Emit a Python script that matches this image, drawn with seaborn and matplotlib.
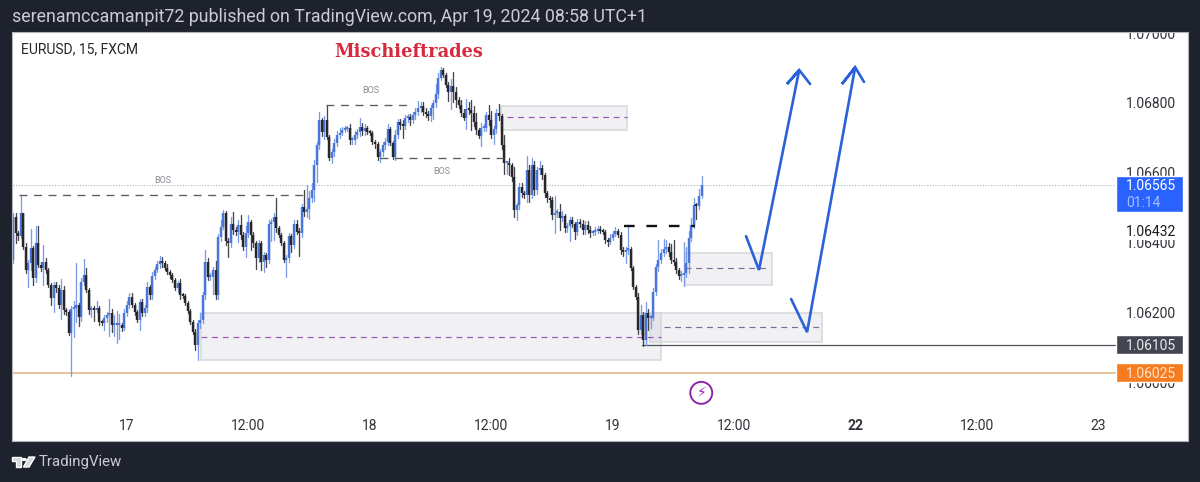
import numpy as np
import pandas as pd
import matplotlib
matplotlib.use("Agg")
import matplotlib.pyplot as plt
from matplotlib.patches import Rectangle, Polygon, Circle
import seaborn as sns

# closes de cada vela de 15 min, en pips por encima de 1.06000
first_open = 35.0
close_pips = [
    47.3, 42.7, 41.8, 48.4, 38.7, 32.1, 34.1, 38.4, 29.8, 39.8,
    33.5, 32.7, 34.4, 32.1, 27.8, 24.1, 27.8, 26.9, 22.1, 26.4,
    20.6, 20.1, 14.0, 20.9, 21.2, 22.1, 18.6, 28.7, 30.7, 26.4,
    20.6, 20.9, 20.6, 21.2, 17.2, 16.9, 18.3, 19.2, 19.8, 16.3,
    16.3, 16.3, 16.4, 15.5, 19.8, 22.1, 24.4, 22.1, 20.1, 17.8,
    22.9, 19.8, 21.2, 27.2, 24.9, 30.4, 32.1, 33.8, 34.7, 34.1,
    32.7, 31.5, 30.7, 29.2, 26.9, 28.4, 24.9, 24.6, 22.6, 20.3,
    17.2, 14.3, 10.6, 16.9, 17.8, 24.9, 34.4, 30.1, 30.1, 32.1,
    24.9, 41.5, 44.4, 48.4, 40.4, 39.8, 45.3, 43.5, 43.0, 45.0,
    42.1, 38.7, 42.7, 45.8, 42.1, 39.8, 35.5, 39.8, 34.4, 36.4,
    35.0, 45.3, 45.8, 47.3, 44.1, 42.1, 39.8, 35.0, 35.5, 41.8,
    39.3, 45.3, 43.0, 42.7, 50.1, 48.7, 49.6, 52.7, 55.0, 62.2,
    67.9, 75.1, 71.6, 75.1, 70.2, 64.2, 65.9, 68.5, 70.8, 71.3,
    72.2, 72.5, 72.8, 69.3, 69.3, 70.8, 71.6, 73.1, 71.9, 72.8,
    71.6, 71.3, 68.8, 68.2, 64.5, 65.9, 67.9, 68.8, 72.5, 68.5,
    64.5, 70.8, 74.5, 73.6, 73.4, 75.6, 75.9, 75.1, 76.5, 77.4,
    78.5, 79.1, 77.4, 76.8, 76.2, 78.5, 79.9, 82.5, 87.1, 89.4,
    88.0, 85.1, 83.1, 84.8, 83.1, 80.8, 79.4, 77.1, 75.6, 78.2,
    77.9, 77.1, 74.5, 72.2, 70.5, 72.8, 72.8, 76.5, 75.1, 70.8,
    72.5, 77.1, 76.2, 67.9, 62.7, 62.7, 62.2, 58.7, 49.3, 50.7,
    55.9, 54.1, 53.6, 60.7, 53.6, 62.2, 55.0, 60.7, 61.3, 59.3,
    54.1, 52.7, 52.1, 47.8, 48.4, 48.7, 47.0, 47.6, 44.1, 44.7,
    46.4, 45.3, 43.0, 45.8, 45.3, 43.5, 45.0, 43.6, 42.7, 43.0,
    43.3, 43.8, 43.3, 43.0, 40.7, 40.1, 41.3, 42.4, 43.3, 42.1,
    37.8, 37.2, 37.8, 38.1, 32.7, 27.2, 24.4, 14.9, 19.2, 12.0,
    19.8, 18.3, 18.3, 25.8, 32.9, 35.0, 37.0, 38.1, 38.7, 37.2,
    35.0, 34.4, 32.1, 30.4, 30.7, 31.2, 34.1, 41.3, 45.0, 50.7,
    50.5, 53.3, 56.5,
]
upper_wick = [
    1, 1, .5, 5.2, 0, 1, 1, 5.5, .5, 5,
    5, 1, 5, 1, .5, .5, 1, 1, 1, 3,
    1, .5, .5, 1, 2, 12, .5, 1, 4.5, 2,
    .5, 1, 1, 2, .5, .5, 1, 1, 4, 1,
    3, 4, 3, .5, 1, 1, 1, 1, .5, .5,
    1, 1, 1, 1.5, .5, 1, 1, 1, 1.5, 1,
    .5, 1, .5, .5, .5, .5, 1, .5, .5, .5,
    .5, .5, 1, 1, 2, 1, 3.5, 1, 1, 1,
    2.5, 1, 2, 1, .5, 1, 2, 3.5, 1, 1.5,
    3, 1, 2, 2, .5, 1, .5, 1, .5, 1,
    .5, 1, 1, 1, 5.5, .5, .5, .5, 1, 1,
    .5, 1, 1, 1, 1, 5, 7, 2, 2, 1.5,
    1, 2.3, .5, 1, 4, .5, 1, 1, 1, 1.5,
    1, 1, .5, 1, 1, 1, 1, 2.5, 1, 1,
    .5, .5, .5, .5, .5, 1, 1, 1, 1.5, .5,
    .5, 1.5, 1, 1, 1.5, 1, 1, 1, 1, 1,
    2, 1, 1, 1, 1, 1, 1, 3, 1.5, 1,
    .5, .5, 1, 2, 4, 1.5, 1, 1.5, 1, 3,
    2, 3, 2, 2.5, .5, 1.5, 1, 1, 3, 2.5,
    1, 1, 2.5, .5, 3, .5, 1.5, .5, 3, .5,
    1, 1, .5, 4, 1.5, 2, 1, 1, 2, 1,
    .5, .5, .5, 1, 5, 1, 2.3, 1.5, .5, 1,
    1, 1, .5, 1, 1, 1, 1, 1, 1, .5,
    1, 1, 1, .5, .5, .5, 1, 1, 1, .5,
    1, 1, 1, 6.9, .5, .5, .5, 1, 3, 1,
    3.2, 1, 1, 1, 1, 5.7, 1, 3, 2, 1,
    2.3, 5.7, 1, .5, 1, 8.9, 4.6, 2, 2, 2,
    .5, 2, 2.6,
]
lower_wick = [
    1, 3, 1, .5, .5, 1, 5, 2, 2, 1,
    .5, 1, 5, 1, .5, 2, 4, 1, 1, 4,
    1, 1, .5, 12.3, 8, 4, 2.5, 1, 1, .5,
    1, 2, 3, .5, 1, .5, 2, 1, 6, 2,
    3, 5, 4, 1, .5, 1, 1, .5, 1, .5,
    3, 1, 1, 1, 1, 1, 1, .5, 1, 1,
    .5, .5, 1, .5, .5, 1, 1, .5, .5, .5,
    .5, .5, 1.4, 4.3, 1.5, 1, 1, 1, 1, 5,
    1, 1, 1, .5, 1, 4, 1, 1, 1, 3,
    1, 1, 3, 1, 4.3, 1, 3, 1, 2.3, 3,
    2, 1, 5, 5, 1, .5, .5, .5, 5, 1,
    2, 1, .5, 6.5, 1, 1, 1.5, 3, 1, 3,
    5, 1, 1, 2, .5, .5, 1.5, 1, 1, 1,
    .5, .5, .5, 1, 1, 1, 1, 1, 1, 1,
    .5, .5, .5, 1, 1, 1.5, 1, 1, 1, .5,
    .5, 1, 1, 1, 3.5, 1, 1, 1.5, 1, 1,
    1, 1, 1, 1, 1, 1.5, 3, 1, 1, .5,
    .5, .5, 2.6, 5, 3, 2, 1, 1, .5, 3,
    1, 5, 1, 1, .6, 2.9, 1, 1, 1.5, 1,
    2.6, 1, 1, 1, 3, 3.2, 3, 1, 2, 3,
    1, 1, 1, 2, 2, 1, 1.5, 1, 1, 1,
    1, 1, 2, 1, 5, 1, 3.4, 1, 1, 1,
    4.3, 1, 2, 1, 1, 1, 1, 1, 1, .5,
    1, .5, .5, .5, 1, 1, .5, .5, .5, .5,
    1, 1, 3, 1, .5, .5, .5, 1, 1, 1.7,
    1.4, 3.5, 2.9, .5, 1, 1, 1, 1, 1, 1,
    1, 1, 1, 1, 1.4, 3.2, 1, 3, 1, 1,
    3.7, 1, .5,
]

# etiquetas de los ejes
x_labels = ["17", "12:00", "18", "12:00", "19", "12:00", "22", "12:00", "23"]
y_prices = [1.07, 1.068, 1.066, 1.064, 1.062, 1.06]

# zonas: barra inicial, barra final, precio bajo, precio alto, linea media
zone_start = [74.3, 192.8, 265.5, 251.7]
zone_end = [256.0, 242.6, 299.8, 319.6]
zone_low = [1.06063, 1.06722, 1.06278, 1.06115]
zone_high = [1.06198, 1.06792, 1.06370, 1.06199]
zone_mid = [1.06129, 1.06758, 1.06327, 1.06158]
zone_mid_start = [74.3, 195.0, 265.5, 257.0]
zone_mid_end = [256.0, 242.6, 297.8, 319.6]
zone_mid_color = ["#9a55b8", "#9a55b8", "#7f6a95", "#7f6a95"]

# lineas BOS
bos_start = [2.4, 123.7, 145.0]
bos_end = [115.4, 157.0, 194.4]
bos_price = [1.06536, 1.06794, 1.06642]
bos_label_x = [59.3, 141.5, 169.5]
bos_label_y = [1.06578, 1.06834, 1.06602]

# flechas azules dibujadas a mano
arrow1_bar = [289.6, 294.7, 310.6, 305.8, 310.6, 314.9]
arrow1_price = [1.06418, 1.06321, 1.06894, 1.06854, 1.06894, 1.06854]
arrow2_bar = [307.4, 313.7, 332.7, 327.5, 332.7, 336.2]
arrow2_price = [1.06238, 1.06143, 1.06902, 1.06854, 1.06902, 1.06860]

W, H = 1200, 482
sns.set_theme(style="white")
plt.rcParams["font.family"] = ["Roboto", "DejaVu Sans"]
dark = "#1e222d"
fig = plt.figure(figsize=(W / 100, H / 100), dpi=100, facecolor=dark)
ax = fig.add_axes([12 / W, 1 - 441 / H, (1188 - 12) / W, (441 - 32) / H], facecolor="white")


def to_price(values):
    return 1.06 + np.asarray(values, dtype=float) / 10000


closes = to_price(close_pips)
opens = np.r_[to_price([first_open]), closes[:-1]]
highs = np.maximum(opens, closes) + np.array(upper_wick) / 10000
lows = np.minimum(opens, closes) - np.array(lower_wick) / 10000
bars = np.arange(len(closes))
side = np.where(closes >= opens, "up", "down")

# cuerpo minimo para que los doji se vean
body_low = np.minimum(opens, closes)
body_top = np.maximum(np.maximum(opens, closes), body_low + 0.00006)

wicks = pd.DataFrame({"bar": np.r_[bars, bars], "price": np.r_[lows, highs], "side": np.r_[side, side]})
bodies = pd.DataFrame({"bar": np.r_[bars, bars], "price": np.r_[body_low, body_top], "side": np.r_[side, side]})

# zonas grises
for s, e, lo, hi, m, ms, me, mc in zip(zone_start, zone_end, zone_low, zone_high, zone_mid,
                                       zone_mid_start, zone_mid_end, zone_mid_color):
    ax.add_patch(Rectangle((s, lo), e - s, hi - lo, facecolor="#787b9a", alpha=0.10, edgecolor="none", zorder=1))
    ax.add_patch(Rectangle((s, lo), e - s, hi - lo, facecolor="none", edgecolor="#d6d7dc", lw=1.1, zorder=1.1))
    ax.plot([ms, me], [m, m], color=mc, lw=0.85, dashes=(5, 4), zorder=1.2)

# lineas de precio
ax.plot([-1, 435.8], [1.06565, 1.06565], color="#a9bcbc", lw=0.8, ls=(0, (1, 1.5)), zorder=1.3)
ax.plot([248.5, 435.8], [1.06105, 1.06105], color="#50535e", lw=0.9, zorder=1.3)
ax.plot([-1, 435.8], [1.06025, 1.06025], color="#e3b27f", lw=1.1, zorder=1.3)

# velas
palette_wick = {"up": "#7a9de6", "down": "#45454b"}
palette_body = {"up": "#4a76db", "down": "#26262b"}
sns.lineplot(data=wicks, x="bar", y="price", units="bar", estimator=None, hue="side", palette=palette_wick,
             lw=0.95, legend=False, ax=ax, zorder=2)
sns.lineplot(data=bodies, x="bar", y="price", units="bar", estimator=None, hue="side", palette=palette_body,
             lw=1.75, legend=False, ax=ax, zorder=2.1, solid_capstyle="butt")

# BOS
for s, e, p in zip(bos_start, bos_end, bos_price):
    ax.plot([s, e], [p, p], color="#5a5a60", lw=0.95, dashes=(6, 5), zorder=2.3)
for x, y in zip(bos_label_x, bos_label_y):
    ax.text(x, y, "BOS", fontsize=6.5, color="#8a8d96", ha="center", va="center")
ax.plot([241.4, 269.5], [1.06448, 1.06448], color="#111111", lw=1.7, dashes=(4.5, 5), zorder=2.3)

# flechas
for bx, py in [(arrow1_bar, arrow1_price), (arrow2_bar, arrow2_price)]:
    sns.lineplot(x=bx, y=py, sort=False, estimator=None, color="#2b62d9", lw=1.9, ax=ax, zorder=3,
                 solid_joinstyle="miter")

# icono de rayo
sns.scatterplot(x=[271.9], y=[1.05969], s=250, facecolor="none", edgecolor="#8e24aa", linewidth=1.4, ax=ax, zorder=3)
ax.text(271.9, 1.05968, "\u26a1", fontsize=10, color="#8e24aa", ha="center", va="center",
        family=["DejaVu Sans"], zorder=3)

# ejes
ax.set_xlim(-0.4, 464.2)
ax.set_ylim(1.05831, 1.07003)
ax.set_xlabel("")
ax.set_ylabel("")
ax.set_xticks([44.7 + 48 * k for k in range(len(x_labels))])
ax.set_xticklabels(x_labels)
ax.set_yticks(y_prices)
ax.set_yticklabels(["%.5f" % v for v in y_prices])
ax.yaxis.tick_right()
ax.tick_params(axis="x", length=0, pad=-15.5, labelsize=10, labelcolor="#2f3238", direction="in")
ax.tick_params(axis="y", length=0, pad=-44.5, labelsize=10, labelcolor="#2f3238", direction="in")
for lab in ax.get_yticklabels():
    lab.set_clip_box(ax.bbox)
    lab.set_clip_on(True)
ax.get_xticklabels()[6].set_fontweight("bold")
for sp in ax.spines.values():
    sp.set_color("#b2b5be")
    sp.set_linewidth(0.8)

# etiquetas de precio en el eje
label_x = 439.8
nudge = 0.00003
ax.add_patch(Rectangle((435.8, 1.06487), 26.5, 0.00103, facecolor="#2962ff", zorder=4))
ax.text(label_x, 1.06565 - nudge, "1.06565", color="white", fontsize=10, va="center", zorder=5)
ax.text(label_x, 1.06516 - nudge, "01:14", color="#a8c0ff", fontsize=10, va="center", zorder=5)
ax.add_patch(Rectangle((435.8, 1.06080), 26.5, 0.00055, facecolor="#434651", zorder=4))
ax.text(label_x, 1.06105 - nudge, "1.06105", color="#e8e9ec", fontsize=10, va="center", zorder=5)
ax.add_patch(Rectangle((435.8, 1.06000), 26.5, 0.00054, facecolor="#f57c1f", zorder=4))
ax.text(label_x, 1.06025 - nudge, "1.06025", color="#fde3cc", fontsize=10, va="center", zorder=5)
ax.text(label_x, 1.06432 - nudge, "1.06432", color="#1a1a1a", fontsize=10, va="center", zorder=5,
        bbox=dict(facecolor="white", edgecolor="none", pad=0.5))

# textos
ax.text(0.0075, 0.958, "EURUSD, 15, FXCM", transform=ax.transAxes, fontsize=10, color="#25272c", va="center")
ax.text((409 - 12) / (1188 - 12), 1 - (52 - 32) / (441 - 32), "Mischieftrades", transform=ax.transAxes,
        fontsize=12.8, color="#d8283d", ha="center", va="center", family=["DejaVu Serif"], fontweight="bold")
fig.text(12 / W, 1 - 17 / H, "serenamccamanpit72 published on TradingView.com, Apr 19, 2024 08:58 UTC+1",
         fontsize=12.8, color="#c9ccd4", va="center")
fig.text(39 / W, 1 - 462 / H, "TradingView", fontsize=10.8, color="#c9ccd4", va="center")

# logo
logo = "#d6d8dd"
t = fig.transFigure
def p(x, y):
    return (x / W, 1 - y / H)
fig.add_artist(Polygon([p(12, 457), p(21, 457), p(21, 467), p(16, 467), p(16, 461), p(12, 461)], transform=t, fc=logo))
fig.add_artist(Circle(p(24, 459.5), 2.2 / W, transform=t, fc=logo))
fig.add_artist(Polygon([p(29, 457), p(35, 457), p(29, 467), p(23.5, 467)], transform=t, fc=logo))

fig.savefig("out.png", dpi=100, facecolor=dark)
